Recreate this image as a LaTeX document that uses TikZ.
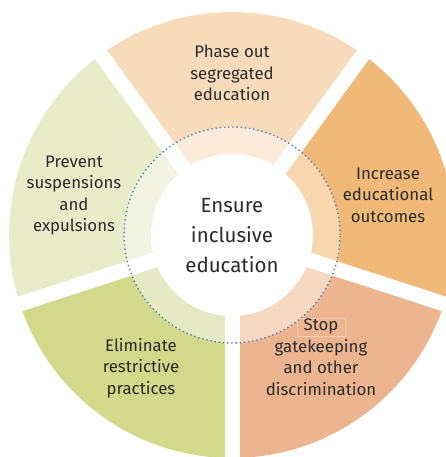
\documentclass[tikz,border=0pt]{standalone}
\usepackage{fontspec}
\setmainfont{Fira Sans}
\definecolor{topO}{HTML}{F8DBBA}
\definecolor{topI}{HTML}{FCEBDA}
\definecolor{rtO}{HTML}{F0B978}
\definecolor{rtI}{HTML}{F9D7AE}
\definecolor{brO}{HTML}{EDB58F}
\definecolor{brI}{HTML}{F6D8C0}
\definecolor{blO}{HTML}{D3D98B}
\definecolor{blI}{HTML}{E6EAC4}
\definecolor{lfO}{HTML}{E8ECC8}
\definecolor{lfI}{HTML}{F2F4E1}
\definecolor{dotc}{HTML}{4F82BC}
\definecolor{txt}{HTML}{2B2B2B}
\definecolor{faint}{HTML}{F5CFB5}
\begin{document}
\begin{tikzpicture}[x=1pt,y=1pt,
  lbl/.style={text=txt, align=center, inner sep=0pt, font=\fontsize{16.8}{21.5}\selectfont},
  hub/.style={text=txt, align=center, inner sep=0pt, font=\fontsize{20.5}{30}\selectfont}]
\useasboundingbox (-232,-222) rectangle (214,235);
\foreach \a/\outc/\inc in {54/topO/topI, -18/rtO/rtI, -90/brO/brI, -162/blO/blI, 126/lfO/lfI} {
  \fill[\outc] (0,0) -- (\a:223) arc[start angle=\a, delta angle=72, radius=223] -- cycle;
  \fill[\inc] (0,0) -- (\a:108) arc[start angle=\a, delta angle=72, radius=108] -- cycle;
}
\foreach \a in {54,-18,-90,-162,126} \draw[white, line width=15] (0,0) -- (\a:245);
\fill[white] (0,0) circle[radius=81];
\draw[dotc, line width=1.4, dash pattern=on 1.4pt off 2.8pt] (0,0) circle[radius=108];
\draw[faint, line width=0.5] (65,-83) rectangle (113,-101);
\node[hub] (center) at (0,-1) {Ensure\\inclusive\\education};
\node[lbl] (phase) at (0,162) {Phase out\\segregated\\education};
\node[lbl] (increase) at (156,40) {Increase\\educational\\outcomes};
\node[lbl] (stop) at (89,-122) {Stop\\gatekeeping\\and other\\discrimination};
\node[lbl] (elim) at (-91,-133) {Eliminate\\restrictive\\practices};
\node[lbl] (prevent) at (-158,39.5) {Prevent\\suspensions\\and\\expulsions};
\end{tikzpicture}
\end{document}
